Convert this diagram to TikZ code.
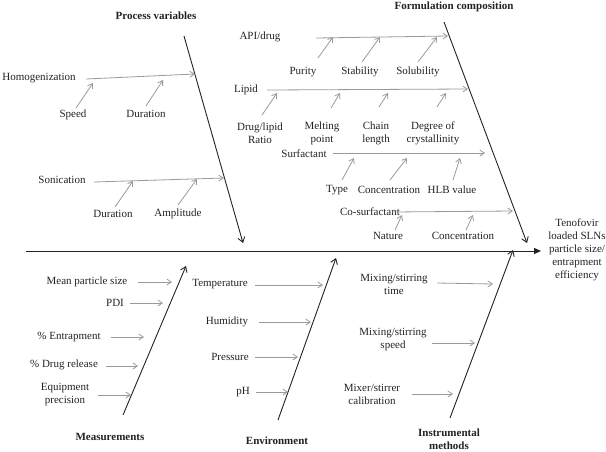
\documentclass[tikz,border=0pt]{standalone}
\usepackage{fontspec}
\setmainfont{Liberation Serif}
\usetikzlibrary{arrows.meta}
\definecolor{ink}{HTML}{222222}
\definecolor{subgray}{HTML}{9A9A9A}
\tikzset{
  lbl/.style={inner sep=0pt, align=center, text=ink, font=\fontsize{11}{13}\selectfont},
  cat/.style={lbl, font=\fontsize{11}{13}\selectfont\bfseries},
  bone/.style={draw=ink, line width=0.9pt, -{Straight Barb[length=5pt,width=7pt]}},
  subarrow/.style={draw=subgray, line width=0.8pt, -{Straight Barb[length=4.5pt,width=6pt]}},
  spine/.style={draw=ink, line width=1pt, -{Triangle[length=7pt,width=6pt]}}
}
\begin{document}
\begin{tikzpicture}[x=1pt,y=-1pt]
\useasboundingbox (0,0) rectangle (606,451);
% ---------- labels ----------
\node[cat] (pv) at (156,16) {Process variables};
\node[cat] (fc) at (454,7) {Formulation composition};
\node[cat] (meas) at (110,437) {Measurements};
\node[cat] (env) at (277,441) {Environment};
\node[cat] (inst) at (449,439) {Instrumental\\methods};
\node[lbl] (out) at (577,250) {Tenofovir\\loaded SLNs\\particle size/\\entrapment\\efficiency};

\node[lbl] (hom) at (39,78) {Homogenization};
\node[lbl] (speed) at (73,115) {Speed};
\node[lbl] (dur1) at (146,114) {Duration};
\node[lbl] (son) at (62,180) {Sonication};
\node[lbl] (dur2) at (113,214) {Duration};
\node[lbl] (amp) at (178,214) {Amplitude};

\node[lbl] (api) at (260,37) {API/drug};
\node[lbl] (purity) at (303,72) {Purity};
\node[lbl] (stab) at (360,72) {Stability};
\node[lbl] (solu) at (418,72) {Solubility};
\node[lbl] (lipid) at (246,90) {Lipid};
\node[lbl] (ratio) at (260,133) {Drug/lipid\\Ratio};
\node[lbl] (melt) at (322,133) {Melting\\point};
\node[lbl] (chain) at (376,133) {Chain\\length};
\node[lbl] (deg) at (433,133) {Degree of\\crystallinity};
\node[lbl] (surf) at (304,154) {Surfactant};
\node[lbl] (type) at (337,190) {Type};
\node[lbl] (conc1) at (389,190) {Concentration};
\node[lbl] (hlb) at (452,190) {HLB value};
\node[lbl] (cosurf) at (370,212) {Co-surfactant};
\node[lbl] (nature) at (388,236) {Nature};
\node[lbl] (conc2) at (463,236) {Concentration};

\node[lbl] (mps) at (87,282) {Mean particle size};
\node[lbl] (pdi) at (115,303) {PDI};
\node[lbl] (entr) at (69,337) {\% Entrapment};
\node[lbl] (drel) at (64,365) {\% Drug release};
\node[lbl] (equip) at (65,395) {Equipment\\precision};

\node[lbl] (temp) at (220,284) {Temperature};
\node[lbl] (hum) at (227,322) {Humidity};
\node[lbl] (press) at (230,357) {Pressure};
\node[lbl] (ph) at (243,392) {pH};

\node[lbl] (mix1) at (394,284) {Mixing/stirring\\time};
\node[lbl] (mix2) at (393,340) {Mixing/stirring\\speed};
\node[lbl] (mix3) at (372,394) {Mixer/stirrer\\calibration};

% ---------- spine and bones ----------
\coordinate (s0) at (26,251);
\coordinate (s1) at (541,251);
\draw[spine] (s0) -- (s1);

\coordinate (b1a) at (184,36); \coordinate (b1b) at (243,243);
\coordinate (b2a) at (444,22); \coordinate (b2b) at (527,243);
\coordinate (b3a) at (123,415); \coordinate (b3b) at (186,266);
\coordinate (b4a) at (278,420); \coordinate (b4b) at (336,258);
\coordinate (b5a) at (450,418); \coordinate (b5b) at (513,250);
\draw[bone] (b1a) -- (b1b);
\draw[bone] (b2a) -- (b2b);
\draw[bone] (b3a) -- (b3b);
\draw[bone] (b4a) -- (b4b);
\draw[bone] (b5a) -- (b5b);

% ---------- sub arrows ----------
\foreach \n/\xa/\ya/\xb/\yb in {
  hom/86/79/195/74, speed/76/108/93/83, dur1/146/106/163/80,
  son/94/182/224/178, dur2/115/207/133/181, amp/178/205/197/179,
  api/316/38/448/36, purity/318/58/333/37, stab/362/62/380/37, solu/418/62/437/37,
  lipid/267/90/468/89, ratio/262/115/277/93, melt/331/108/340/93, chain/379/107/388/93, deg/437/107/446/93,
  surf/333/153/485/153, type/342/180/354/158, conc1/390/180/407/158, hlb/453/180/460/158,
  cosurf/392/212/513/211, nature/395/230/402/215, conc2/466/230/473/215,
  mps/138/282/172/282, pdi/130/303/163/303, entr/111/337/144/337, drel/106/366/138/366, equip/98/395/131/395,
  temp/255/285/323/285, hum/259/322/311/322, press/255/357/298/357, ph/256/392/288/392,
  mix1/437/283/493/284, mix2/432/343/475/343, mix3/412/394/453/394}{
  \coordinate (\n-a) at (\xa,\ya);
  \coordinate (\n-b) at (\xb,\yb);
  \draw[subarrow] (\n-a) -- (\n-b);
}
\end{tikzpicture}
\end{document}
